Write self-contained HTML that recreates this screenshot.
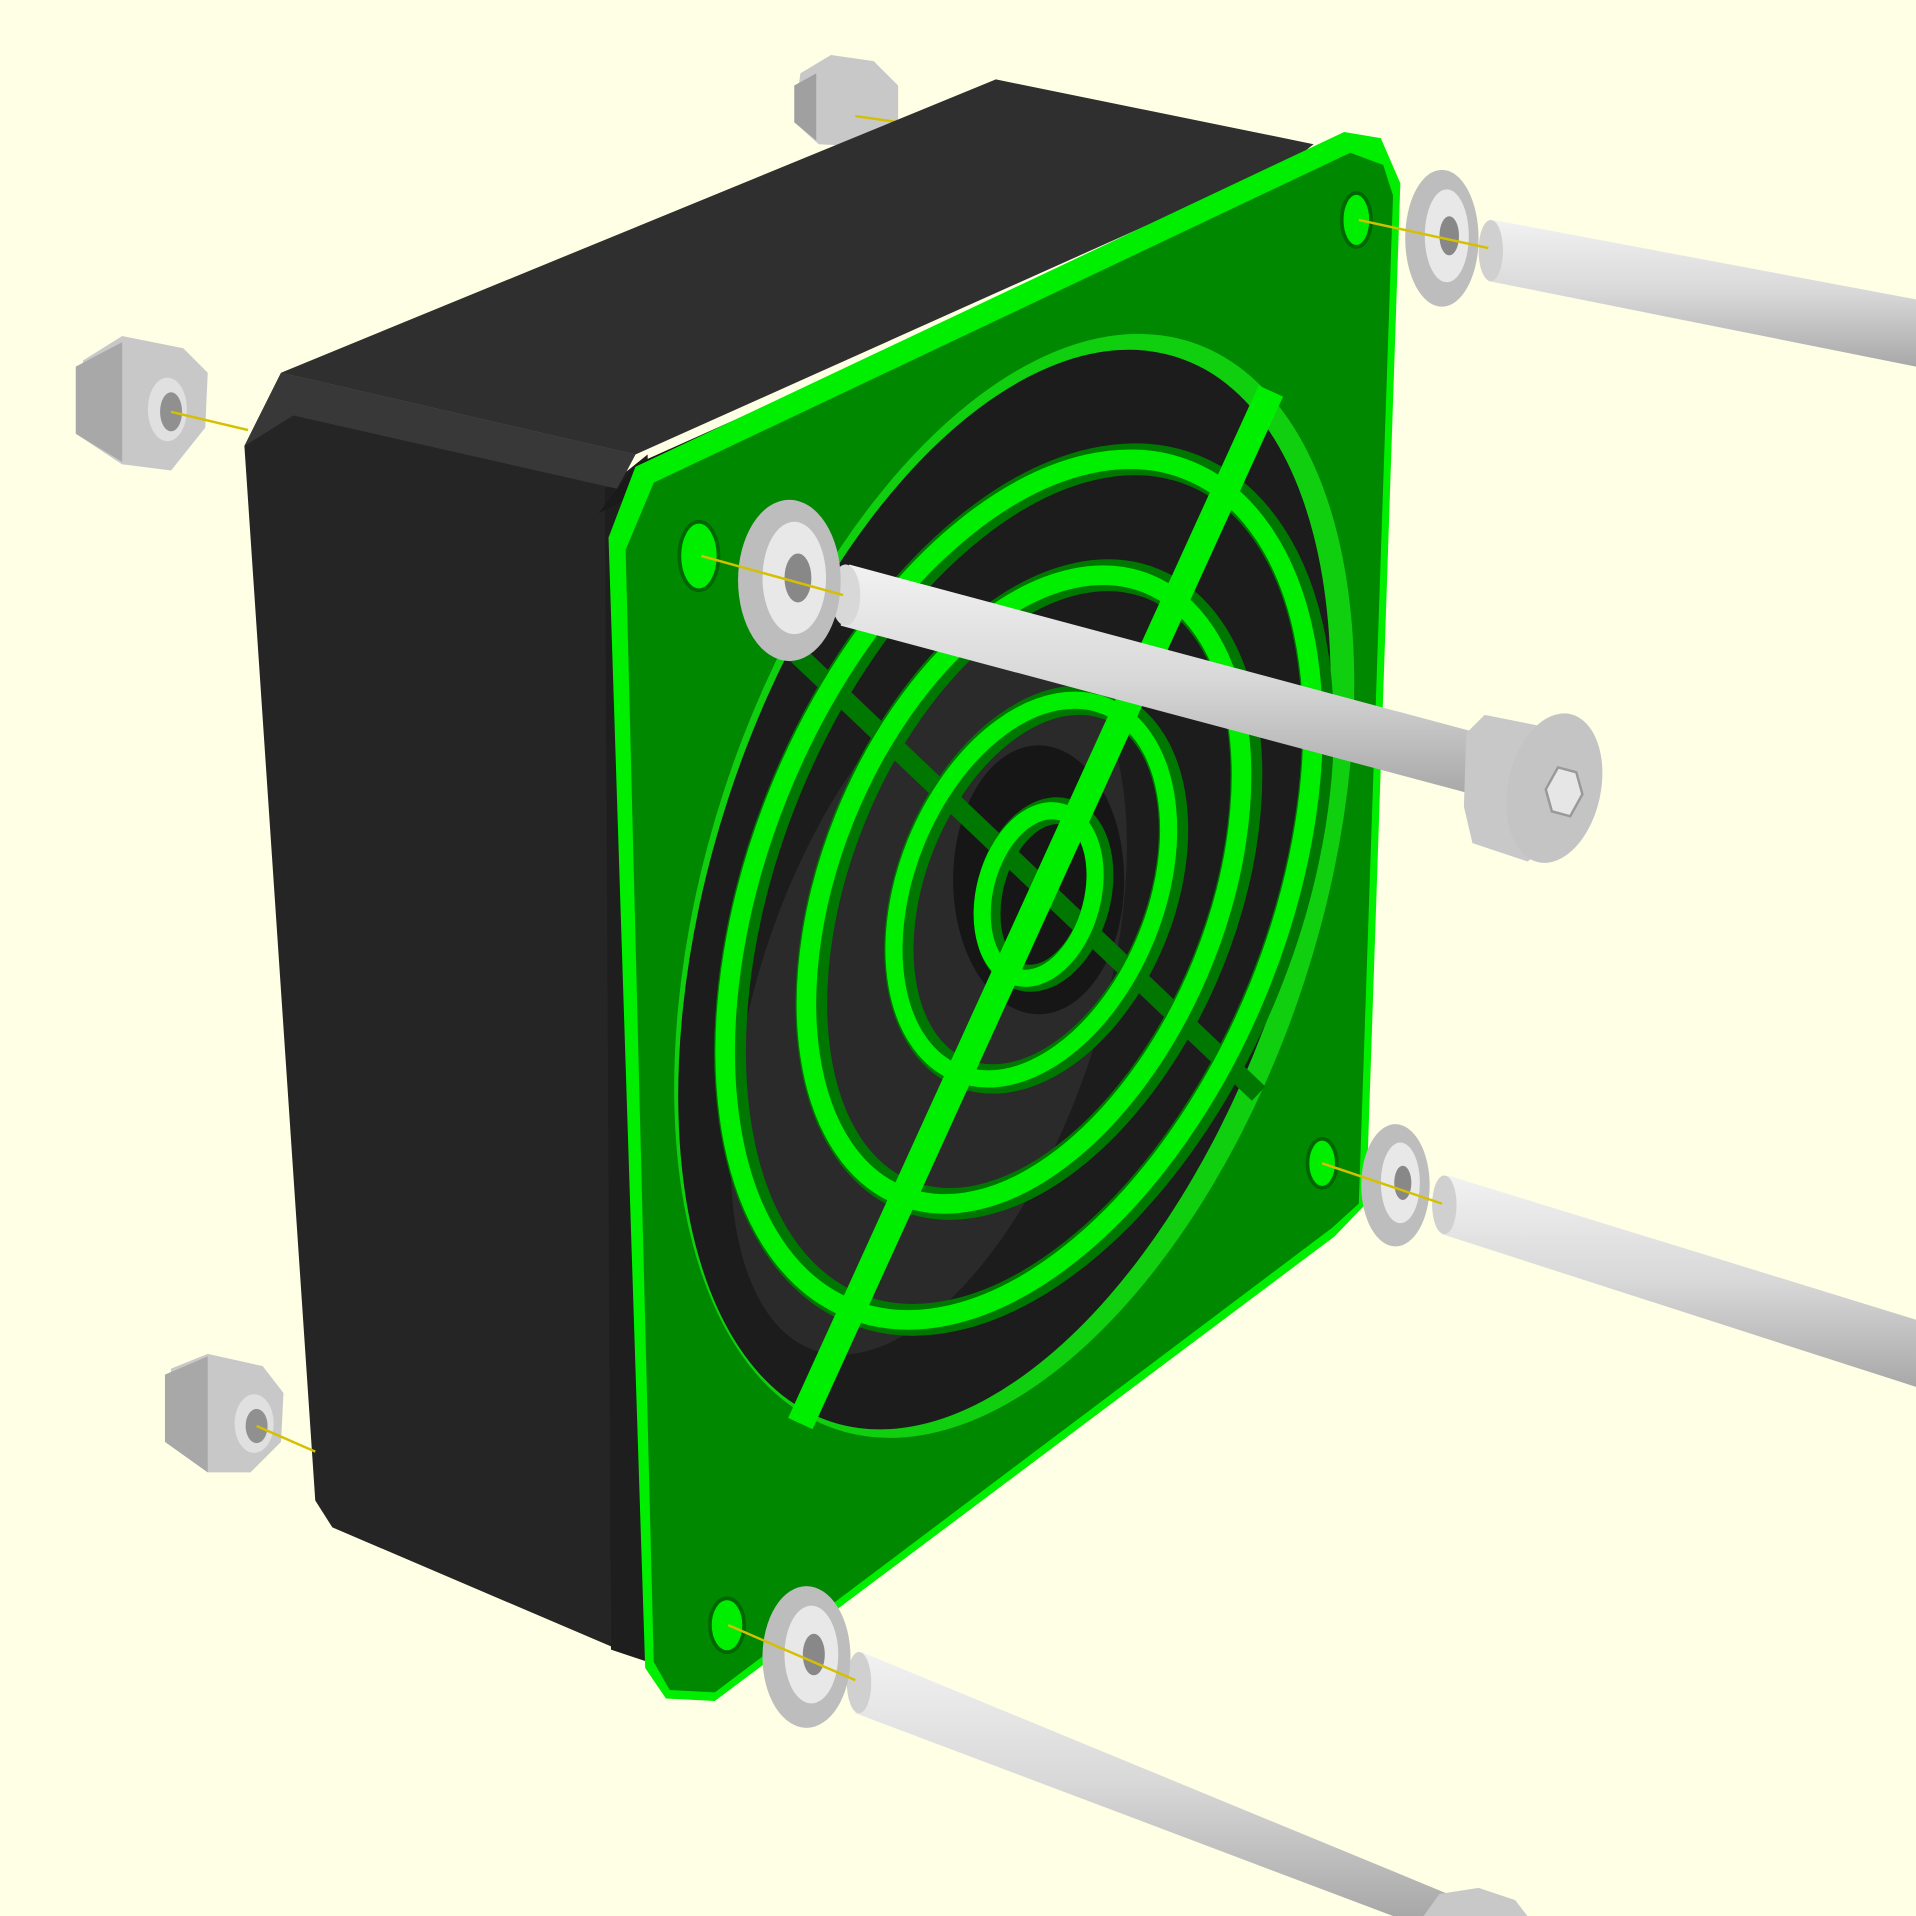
<!DOCTYPE html>
<html><head><meta charset="utf-8"><style>
html,body{margin:0;padding:0;background:#ffffe5;}
svg{display:block;}
</style></head><body>
<svg width="1916" height="1916" viewBox="0 0 1568 1568" xmlns="http://www.w3.org/2000/svg">
<defs>
<linearGradient id="rod" x1="0" y1="0" x2="0" y2="1">
<stop offset="0" stop-color="#f2f2f2"/><stop offset="0.5" stop-color="#d8d8d8"/><stop offset="1" stop-color="#a8a8a8"/>
</linearGradient>
</defs>
<rect width="1568" height="1568" fill="#ffffe5"/>

<g>
<polygon points="655,60 680,45 715,50 735,70 735,100 710,120 670,118 650,100" fill="#c8c8c8"/>
<polygon points="650,70 668,60 668,115 650,100" fill="#a0a0a0"/>
<line x1="700" y1="95" x2="735" y2="100" stroke="#d4c000" stroke-width="2"/>
</g>

<g>
<polygon points="230,305 815,65 1075,118 1060,130 520,372" fill="#2f2f2f"/>
<polygon points="200,365 230,305 520,372 500,410 500,1345 525,1358 272,1250 258,1228" fill="#252525"/>
<polygon points="495,400 530,372 545,1365 500,1350" fill="#1e1e1e"/>
<polygon points="200,365 230,305 520,372 505,400 240,340" fill="#383838"/>
<polygon points="490,420 1060,130 1090,125 520,380" fill="#1a1a1a"/>
</g>

<g>
<polygon points="68,295 100,275 150,285 170,305 168,350 140,385 100,380 62,355" fill="#c8c8c8"/>
<polygon points="62,300 100,280 100,378 62,355" fill="#a8a8a8"/>
<ellipse cx="137" cy="335" rx="16" ry="26" fill="#e0e0e0"/>
<ellipse cx="140" cy="337" rx="9" ry="16" fill="#909090"/>
<line x1="140" y1="337" x2="203" y2="352" stroke="#d4c000" stroke-width="2"/>
</g>

<g>
<polygon points="140,1120 170,1108 215,1118 232,1140 230,1180 205,1205 170,1205 135,1180" fill="#c8c8c8"/>
<polygon points="135,1125 170,1110 170,1205 135,1180" fill="#a8a8a8"/>
<ellipse cx="208" cy="1165" rx="16" ry="24" fill="#e0e0e0"/>
<ellipse cx="210" cy="1167" rx="9" ry="14" fill="#909090"/>
<line x1="210" y1="1167" x2="258" y2="1188" stroke="#d4c000" stroke-width="2"/>
</g>

<g>
<polygon points="498,440 520,382 1100,108 1130,113 1146,150 1118,985 1092,1012 585,1392 545,1390 528,1365" fill="#00ee00"/>
<polygon points="512,450 535,395 1105,125 1132,135 1140,160 1112,985 1090,1005 585,1385 548,1383 535,1360" fill="#008800"/>
<ellipse cx="830" cy="725" rx="250" ry="468" transform="rotate(18 830 725)" fill="#0fcf0f"/>
<ellipse cx="822" cy="728" rx="238" ry="458" transform="rotate(18 822 728)" fill="#1c1c1c"/>
<ellipse cx="760" cy="820" rx="140" ry="300" transform="rotate(18 760 820)" fill="#2a2a2a"/>
<ellipse cx="850" cy="720" rx="70" ry="110" fill="#161616"/>
</g>

<g fill="#00ee00" stroke="#006600" stroke-width="3">
<ellipse cx="1110" cy="180" rx="12" ry="22"/>
<ellipse cx="572" cy="455" rx="16" ry="28"/>
<ellipse cx="1082" cy="952" rx="12" ry="20"/>
<ellipse cx="595" cy="1330" rx="14" ry="22"/>
</g>

<line x1="652" y1="535" x2="1030" y2="895" stroke="#007700" stroke-width="16"/>

<g fill="none">
<ellipse cx="838" cy="728" rx="212" ry="370" transform="rotate(22 838 728)" stroke="#007700" stroke-width="26"/>
<ellipse cx="834" cy="728" rx="212" ry="370" transform="rotate(22 834 728)" stroke="#00ee00" stroke-width="16"/>
<ellipse cx="842" cy="728" rx="158" ry="270" transform="rotate(22 842 728)" stroke="#007700" stroke-width="26"/>
<ellipse cx="838" cy="728" rx="158" ry="270" transform="rotate(22 838 728)" stroke="#00ee00" stroke-width="16"/>
<ellipse cx="848" cy="728" rx="102" ry="162" transform="rotate(22 848 728)" stroke="#007700" stroke-width="24"/>
<ellipse cx="844" cy="728" rx="102" ry="162" transform="rotate(22 844 728)" stroke="#00ee00" stroke-width="14"/>
<ellipse cx="854" cy="732" rx="44" ry="70" transform="rotate(15 854 732)" stroke="#007700" stroke-width="22"/>
<ellipse cx="850" cy="732" rx="44" ry="70" transform="rotate(15 850 732)" stroke="#00ee00" stroke-width="14"/>
</g>

<line x1="1040" y1="320" x2="655" y2="1165" stroke="#00ee00" stroke-width="22"/>

<g>
<polygon points="1222,180 1568,245 1568,300 1218,230" fill="url(#rod)"/>
<ellipse cx="1220" cy="205" rx="10" ry="25" fill="#d0d0d0"/>
<ellipse cx="1180" cy="195" rx="30" ry="56" fill="#bdbdbd"/>
<ellipse cx="1184" cy="193" rx="18" ry="38" fill="#e8e8e8"/>
<ellipse cx="1186" cy="193" rx="8" ry="16" fill="#888"/>
<line x1="1112" y1="180" x2="1218" y2="203" stroke="#d4c000" stroke-width="2"/>
</g>

<g>
<polygon points="1185,962 1568,1080 1568,1135 1180,1010" fill="url(#rod)"/>
<ellipse cx="1182" cy="986" rx="10" ry="24" fill="#d0d0d0"/>
<ellipse cx="1142" cy="970" rx="28" ry="50" fill="#bdbdbd"/>
<ellipse cx="1146" cy="968" rx="16" ry="33" fill="#e8e8e8"/>
<ellipse cx="1148" cy="968" rx="7" ry="14" fill="#888"/>
<line x1="1082" y1="952" x2="1180" y2="985" stroke="#d4c000" stroke-width="2"/>
</g>

<g>
<polygon points="705,1352 1190,1552 1170,1568 1140,1568 700,1402" fill="url(#rod)"/>
<polygon points="1165,1568 1178,1550 1210,1545 1240,1555 1250,1568" fill="#c8c8c8"/>
<ellipse cx="703" cy="1377" rx="10" ry="25" fill="#d0d0d0"/>
<ellipse cx="660" cy="1356" rx="36" ry="58" fill="#bdbdbd"/>
<ellipse cx="664" cy="1354" rx="22" ry="40" fill="#e8e8e8"/>
<ellipse cx="666" cy="1354" rx="9" ry="17" fill="#888"/>
<line x1="596" y1="1330" x2="700" y2="1375" stroke="#d4c000" stroke-width="2"/>
</g>

<g>
<polygon points="695,462 1210,600 1205,650 688,512" fill="url(#rod)"/>
<ellipse cx="692" cy="487" rx="12" ry="25" fill="#d8d8d8"/>
<polygon points="1200,600 1215,585 1265,595 1280,610 1272,690 1250,705 1205,690 1198,660" fill="#c8c8c8"/>
<ellipse cx="1272" cy="645" rx="38" ry="62" transform="rotate(12 1272 645)" fill="#c4c4c4"/>
<polygon points="1275,628 1290,632 1295,650 1285,668 1270,664 1265,646" fill="#e6e6e6" stroke="#999" stroke-width="2"/>
<ellipse cx="646" cy="475" rx="42" ry="66" fill="#bdbdbd"/>
<ellipse cx="650" cy="473" rx="26" ry="46" fill="#e8e8e8"/>
<ellipse cx="653" cy="473" rx="11" ry="20" fill="#888"/>
<line x1="574" y1="455" x2="690" y2="487" stroke="#d4c000" stroke-width="2"/>
</g>
</svg>
</body></html>
